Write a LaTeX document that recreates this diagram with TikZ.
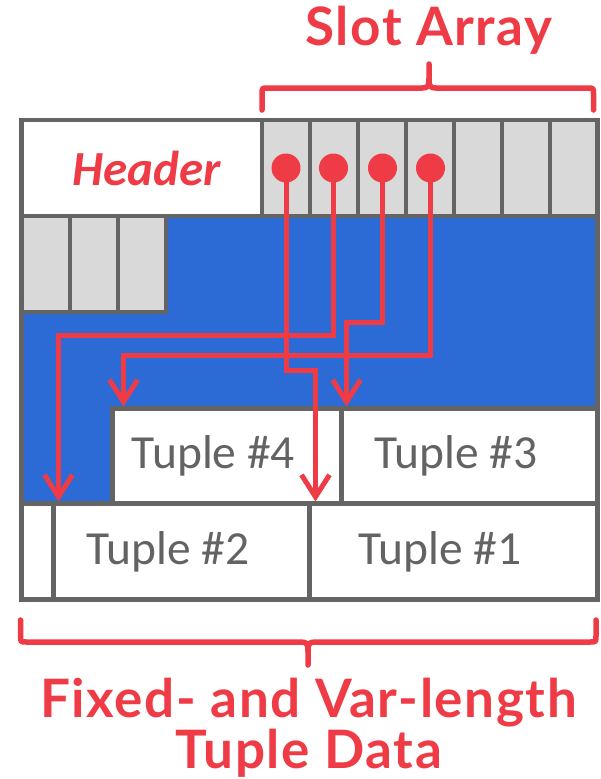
\documentclass[tikz,border=0pt]{standalone}
\usepackage{fontspec}
\setmainfont{Carlito}
\newfontfamily\latofont{Lato}[LetterSpace=3]
\usetikzlibrary{arrows.meta}
\definecolor{pagered}{RGB}{239,59,69}
\definecolor{pageblue}{RGB}{44,107,214}
\definecolor{cellgrey}{RGB}{217,217,217}
\definecolor{edgegrey}{RGB}{100,100,100}
\definecolor{textgrey}{RGB}{99,99,99}
\tikzset{
  cellbox/.style={draw=edgegrey, line width=4.5pt, rectangle, inner sep=0pt, outer sep=0pt},
  whitecell/.style={cellbox, fill=white},
  greycell/.style={cellbox, fill=cellgrey},
  tupletext/.style={text=textgrey, font=\fontsize{47.5}{56}\selectfont, inner sep=0pt},
  headertext/.style={text=pagered, font=\fontsize{49}{58}\selectfont\bfseries\itshape, inner sep=0pt},
  bigred/.style={text=pagered, font=\latofont\bfseries\fontsize{53}{62}\selectfont, inner sep=0pt, anchor=base},
  ptr/.style={draw=pagered, line width=5pt, -{Straight Barb[length=22pt,width=28pt]}},
  dot/.style={circle, fill=pagered, minimum size=29pt, inner sep=0pt},
  bracketline/.style={draw=pagered, line width=5.5pt, line cap=round, line join=round}
}
\begin{document}
\begin{tikzpicture}[x=1pt,y=-1pt]
\useasboundingbox (0,0) rectangle (601,779);

% blue free-space region
\fill[pageblue] (21.5,216) rectangle (597.5,503.5);

% header and slot array
\node[whitecell, minimum width=240.5pt, minimum height=96pt] (header) at (141.75,168) {};
\foreach \i in {1,...,7} {
  \node[greycell, minimum width=48pt, minimum height=96pt] (s\i) at ({286+48*(\i-1)},168) {};
}
% extra slot cells on second row
\node[greycell, minimum width=48.5pt, minimum height=96pt] (g1) at (45.75,264) {};
\node[greycell, minimum width=48pt, minimum height=96pt] (g2) at (94,264) {};
\node[greycell, minimum width=48pt, minimum height=96pt] (g3) at (142,264) {};

% tuples
\node[whitecell, minimum width=229pt, minimum height=95pt] (t4) at (227,456) {};
\node[whitecell, minimum width=256pt, minimum height=95pt] (t3) at (469.5,456) {};
\node[whitecell, minimum width=32pt, minimum height=96pt] (small) at (37.5,551.5) {};
\node[whitecell, minimum width=256pt, minimum height=96pt] (t2) at (181.5,551.5) {};
\node[whitecell, minimum width=288pt, minimum height=96pt] (t1) at (453.5,551.5) {};

% outer frame
\node[cellbox, minimum width=576pt, minimum height=479.5pt] (page) at (309.5,359.75) {};

% labels in cells
\node[headertext] (htext) at ([xshift=5pt]header.center) {Header};
\node[tupletext] (l4) at ([xshift=-13.5pt]t4.center) {Tuple \#4};
\node[tupletext] (l3) at ([xshift=-13.5pt]t3.center) {Tuple \#3};
\node[tupletext] (l2) at ([xshift=-13.5pt]t2.center) {Tuple \#2};
\node[tupletext] (l1) at ([xshift=-13.5pt]t1.center) {Tuple \#1};

% slot pointers
\node[dot] (d1) at (286,168) {};
\node[dot] (d2) at (333.5,168) {};
\node[dot] (d3) at (382.5,168) {};
\node[dot] (d4) at (430.5,168) {};
\coordinate (a1) at (315.5,501.5);
\coordinate (a2) at (58.5,501.5);
\coordinate (a3) at (346.5,406.5);
\coordinate (a4) at (123.5,406.5);
\draw[ptr] (d1.center) -- ++(0,202.5) -| (a1);
\draw[ptr] (d2.center) -- ++(0,167.5) -| (a2);
\draw[ptr] (d3.center) -- ++(0,154.5) -| (a3);
\draw[ptr] (d4.center) -- ++(0,187.5) -| (a4);

% top brace
\draw[bracketline] (262,110) -- (262,94) .. controls (262,88) .. (268,88) -- (422,88) .. controls (428,88) and (429,86) .. (429,79) -- (429,64);
\draw[bracketline] (593.5,110) -- (593.5,94) .. controls (593.5,88) .. (587.5,88) -- (436,88) .. controls (430,88) and (429,86) .. (429,79);
\node[bigred] (slotlabel) at (429,45) {Slot Array};

% bottom brace
\draw[bracketline] (20.5,620) -- (20.5,636) .. controls (20.5,642) .. (26.5,642) -- (301,642) .. controls (307,642) and (308,644) .. (308,651) -- (308,665);
\draw[bracketline] (596,620) -- (596,636) .. controls (596,642) .. (590,642) -- (315,642) .. controls (309,642) and (308,644) .. (308,651);
\node[bigred] (datalabelA) at (308.5,717) {Fixed- and Var-length};
\node[bigred] (datalabelB) at (308.5,768) {Tuple Data};
\end{tikzpicture}
\end{document}
